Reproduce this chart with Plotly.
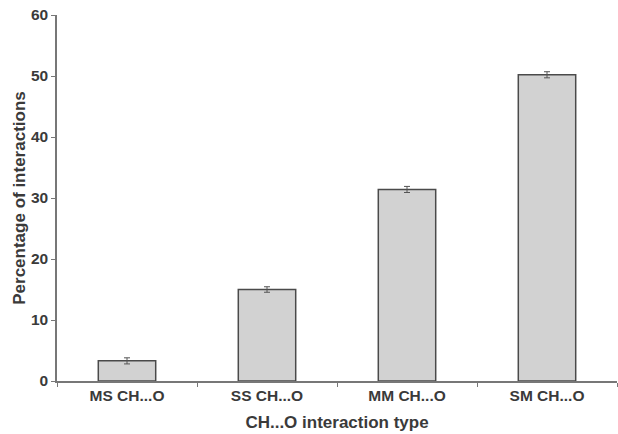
import plotly.graph_objects as go

categories = ["MS CH...O", "SS CH...O", "MM CH...O", "SM CH...O"]
values = [3.3, 15.0, 31.4, 50.2]
errors = [0.5, 0.45, 0.5, 0.5]
y_ticks = [0, 10, 20, 30, 40, 50, 60]

fig = go.Figure()
fig.add_trace(go.Bar(
    x=categories, y=values,
    marker=dict(color="#d2d2d2", line=dict(color="#4a4a4a", width=1.5)),
    width=0.41,
    error_y=dict(type="data", array=errors, visible=True, color="#555555", thickness=1, width=3),
))

font_family = "Liberation Sans, Arial, sans-serif"
fig.update_layout(
    width=618, height=434,
    margin=dict(l=57, r=1, t=15, b=53),
    plot_bgcolor="white", paper_bgcolor="white",
    showlegend=False,
    font=dict(family=font_family, color="#3a3a3a"),
    xaxis=dict(
        automargin=False,
        tickson="boundaries", ticks="outside", ticklen=4, tickcolor="#777777",
        showline=True, linecolor="#777777", linewidth=1.5,
        tickfont=dict(size=15.5, family=font_family, weight="bold", color="#3a3a3a"),
        title=dict(text="CH...O interaction type", font=dict(size=17, weight="bold", color="#3a3a3a"), standoff=13),
        showgrid=False,
    ),
    yaxis=dict(
        automargin=False, ticklabeloverflow="allow",
        range=[0, 60], tickvals=y_ticks, ticks="outside", ticklen=4, tickcolor="#777777",
        showline=True, linecolor="#777777", linewidth=1.5,
        tickfont=dict(size=15.5, family=font_family, weight="bold", color="#3a3a3a"),
        title=dict(text="Percentage of interactions", font=dict(size=17, weight="bold", color="#3a3a3a"), standoff=1),
        showgrid=False, zeroline=False,
    ),
)
fig.write_html("out.html", config={"displayModeBar": False},
               post_script="document.body.style.margin='0';")
